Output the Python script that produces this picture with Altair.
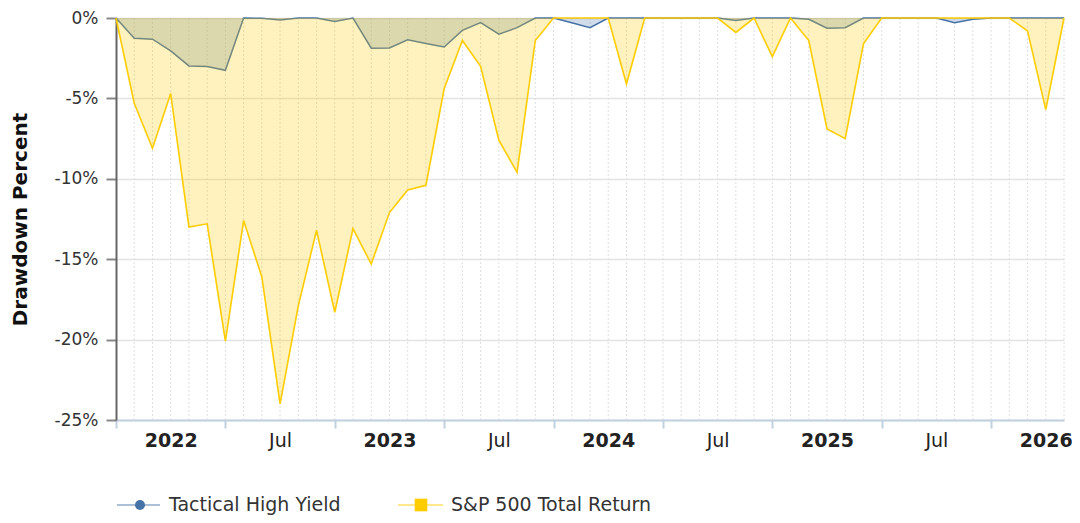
import altair as alt
import pandas as pd

# ---- data (monthly drawdowns, %) ----
months = list(range(53))
sp500 = [0, -5.3, -8.1, -4.7, -13.0, -12.8, -20.1, -12.6, -16.1, -24.0,
         -17.9, -13.2, -18.3, -13.1, -15.3, -12.1, -10.7, -10.4, -4.4, -1.4,
         -3.0, -7.6, -9.6, -1.4, 0, 0, 0, 0, -4.1, 0,
         0, 0, 0, 0, -0.9, 0, -2.4, 0, -1.4, -6.9,
         -7.5, -1.6, 0, 0, 0, 0, 0, 0, 0, 0,
         -0.8, -5.7, 0]
thy = [0, -1.26, -1.32, -2.05, -2.98, -3.02, -3.25, 0, -0.02, -0.12,
       0, 0, -0.22, 0, -1.88, -1.86, -1.36, -1.59, -1.80, -0.77,
       -0.29, -1.01, -0.60, 0, 0, -0.30, -0.60, 0, 0, 0,
       0, 0, 0, 0, -0.15, 0, 0, 0, -0.08, -0.64,
       -0.60, 0, 0, 0, 0, 0, -0.29, -0.08, 0, 0,
       0, 0, 0]

series_names = ["Tactical High Yield", "S&P 500 Total Return"]
tick_marks = [0, 6, 12, 18, 24, 30, 36, 42, 48]
label_positions = [3, 9, 15, 21, 27, 33, 39, 45, 51]
tick_labels = ["2022", "Jul", "2023", "Jul", "2024", "Jul", "2025", "Jul", "2026"]
y_ticks = [0, -5, -10, -15, -20, -25]

THY_COLOR = "#4572A7"
SP_COLOR = "#FFCC00"
FONT = "DejaVu Sans"

df = pd.DataFrame({"k": months, "thy": thy, "sp": sp500})
grid_df = pd.DataFrame({"k": months[1:]})

label_expr = ""
for p, t in zip(label_positions, tick_labels):
    label_expr += f"datum.value == {p} ? '{t}' : "
label_expr += "''"
bold_pos = [p for p, t in zip(label_positions, tick_labels) if t != "Jul"]

x_scale = alt.Scale(domain=[0, 52], nice=False, zero=False)
y_scale = alt.Scale(domain=[-25, 0], nice=False)

x_axis = alt.Axis(
    values=sorted(tick_marks + label_positions),
    labelExpr=label_expr,
    title=None,
    grid=False,
    domainColor="#c0d0e0", domainWidth=2,
    tickColor="#c0d0e0", tickWidth=2, tickSize=8,
    tickOpacity={"condition": {"test": f"indexof({tick_marks}, datum.value) >= 0", "value": 1}, "value": 0},
    labelFontWeight={"condition": {"test": f"indexof({bold_pos}, datum.value) >= 0", "value": "bold"}, "value": "normal"},
    labelFont=FONT, labelFontSize=19, labelColor="#222",
    labelPadding=3, labelOverlap=False, labelFlush=False,
)
y_axis = alt.Axis(
    values=y_ticks,
    labelExpr="datum.value + '%'",
    title="Drawdown Percent",
    titleFont=FONT, titleFontSize=20, titleFontWeight="bold", titleColor="#111",
    titleAngle=270, titleX=-96, titleY=201, titleAlign="center", titleBaseline="middle",
    grid=True, gridColor="#e3e3e3", gridWidth=1.5,
    domainColor="#666", domainWidth=2,
    tickColor="#888", tickWidth=2, tickSize=10,
    labelFont=FONT, labelFontSize=17, labelColor="#333", labelPadding=8,
)

X = alt.X("k:Q", scale=x_scale, axis=x_axis)

vgrid = alt.Chart(grid_df).mark_rule(color="#dedede", strokeDash=[2, 2], strokeWidth=1).encode(x=X)

base = alt.Chart(df)
thy_area = base.mark_area(color=THY_COLOR, opacity=0.25).encode(
    x=X, y=alt.Y("thy:Q", scale=y_scale, axis=y_axis))
thy_line = base.mark_line(color=THY_COLOR, strokeWidth=1.5).encode(
    x=X, y=alt.Y("thy:Q", scale=y_scale, axis=y_axis))
sp_area = base.mark_area(color=SP_COLOR, opacity=0.25).encode(
    x=X, y=alt.Y("sp:Q", scale=y_scale, axis=y_axis))
sp_line = base.mark_line(color=SP_COLOR, strokeWidth=1.6).encode(
    x=X, y=alt.Y("sp:Q", scale=y_scale, axis=y_axis))

# ---- legend (drawn manually) ----
leg1 = pd.DataFrame({"name": [series_names[0]]})
leg2 = pd.DataFrame({"name": [series_names[1]]})
LY = 487
l1_line = alt.Chart(leg1).mark_rule(color=THY_COLOR, opacity=0.45, strokeWidth=2).encode(
    x=alt.value(1), x2=alt.value(44), y=alt.value(LY))
l1_pt = alt.Chart(leg1).mark_point(shape="circle", filled=True, size=100, opacity=1, color=THY_COLOR).encode(
    x=alt.value(24), y=alt.value(LY))
l1_txt = alt.Chart(leg1).mark_text(align="left", baseline="middle", font=FONT, fontSize=19, color="#333").encode(
    x=alt.value(53), y=alt.value(LY), text="name:N")
l2_line = alt.Chart(leg2).mark_rule(color=SP_COLOR, opacity=0.45, strokeWidth=2).encode(
    x=alt.value(282), x2=alt.value(327), y=alt.value(LY))
l2_pt = alt.Chart(leg2).mark_point(shape="square", filled=True, size=160, opacity=1, color=SP_COLOR).encode(
    x=alt.value(305), y=alt.value(LY))
l2_txt = alt.Chart(leg2).mark_text(align="left", baseline="middle", font=FONT, fontSize=19, color="#333").encode(
    x=alt.value(335), y=alt.value(LY), text="name:N")

chart = alt.layer(
    vgrid, thy_area, thy_line, sp_area, sp_line,
    l1_line, l1_pt, l1_txt, l2_line, l2_pt, l2_txt,
).properties(
    width=948, height=402,
    autosize=alt.AutoSizeParams(type="none"),
    padding={"left": 108, "top": 10, "right": 8, "bottom": 95},
    background="white",
).configure_view(stroke="transparent")

chart.save("out.html", embed_options={"renderer": "svg", "actions": False})
